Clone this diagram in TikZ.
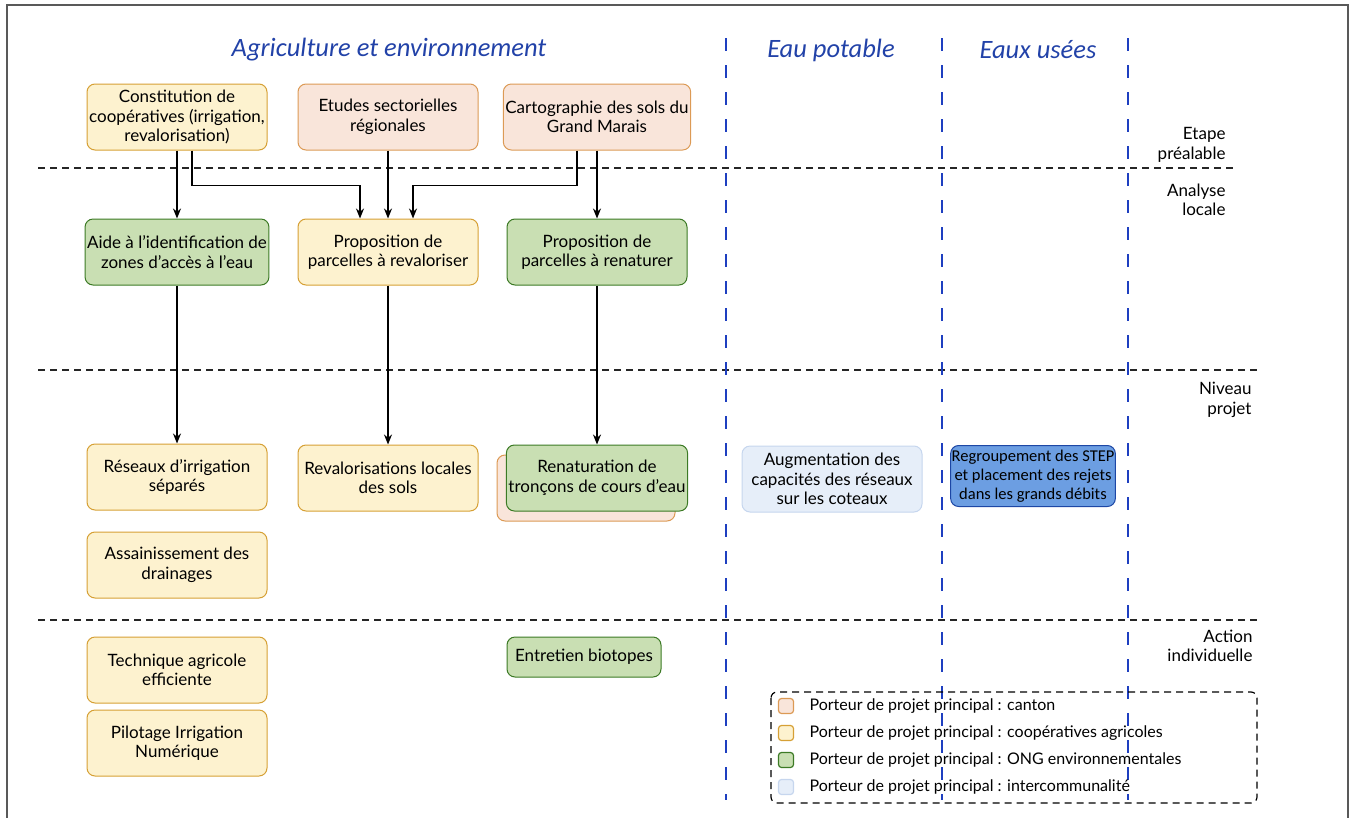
\documentclass[tikz,border=0pt]{standalone}
\usepackage{fontspec}
\setmainfont{Lato}
\newfontfamily\headfont{Carlito}
\usetikzlibrary{arrows.meta,positioning}

\definecolor{cantonfill}{HTML}{F9E5DA}
\definecolor{cantonline}{HTML}{DC9A55}
\definecolor{coopfill}{HTML}{FDF2CF}
\definecolor{coopline}{HTML}{D6A035}
\definecolor{ongfill}{HTML}{C9DFB3}
\definecolor{ongline}{HTML}{3C7A25}
\definecolor{intfill}{HTML}{E6EEF9}
\definecolor{intline}{HTML}{C6D6EE}
\definecolor{stepfill}{HTML}{6C9EE2}
\definecolor{stepline}{HTML}{1D47A5}
\definecolor{titleblue}{HTML}{2242A8}
\definecolor{frameblue}{HTML}{1E3FC0}

\begin{document}
\begin{tikzpicture}[x=1pt, y=-1pt, >={Stealth[length=10pt, width=8pt]},
    box/.style={rectangle, rounded corners=8pt, line width=1pt, minimum width=180pt, minimum height=66pt, align=center, inner sep=2pt, font=\fontsize{17}{19.5}\selectfont},
    canton/.style={box, draw=cantonline, fill=cantonfill},
    coop/.style={box, draw=coopline, fill=coopfill},
    ong/.style={box, draw=ongline, fill=ongfill},
    interco/.style={box, draw=intline, fill=intfill},
    stepbox/.style={box, draw=stepline, fill=stepfill, minimum width=154pt, minimum height=61pt, inner sep=1pt, font=\headfont\fontsize{16.5}{19}\selectfont},
    title/.style={font=\headfont\fontsize{26.5}{30}\itshape, text=titleblue},
    level/.style={align=right, anchor=east, font=\fontsize{17}{19.5}\selectfont},
    sep/.style={dash pattern=on 7pt off 5pt, line width=1.4pt, black!85},
    col/.style={dash pattern=on 13pt off 14pt, line width=2.6pt, frameblue},
    key/.style={rectangle, rounded corners=3pt, line width=1.2pt, minimum size=15pt, inner sep=0pt},
    keytext/.style={anchor=west, font=\fontsize{16}{18}\selectfont},
    arr/.style={->, line width=1.8pt}
]
    \useasboundingbox (0,0) rectangle (1350,817);
    \draw [black!65, line width=1.5pt] (7,5) rectangle (1348,830);

    % Lines
    \draw [sep] (38,168) -- (1237,168);
    \draw [sep] (38,370) -- (1258,370);
    \draw [sep] (38,620) -- (1258,620);
    \draw [col] (726,38) -- (726,800);
    \draw [col] (942,38) -- (942,800);
    \draw [col] (1128,38) -- (1128,800);

    % Titles
    \node [title] (agri)  at (389,50)  {Agriculture et environnement};
    \node [title] (eaup)  at (831,50)  {Eau potable};
    \node [title] (eauu)  at (1038,50) {Eaux usées};

    % Levels
    \node [level] (etape)   at (1229,145) {Etape\\préalable};
    \node [level] (analyse) at (1229,200) {Analyse\\locale};
    \node [level] (niveau)  at (1255,400) {Niveau\\projet};
    \node [level] (action)  at (1256,646) {Action\\individuelle};

    % Nodes {cons, etud, carto, aide, prev, pren, ...}
    \node [coop]    (cons)  at (177,117) {Constitution de\\coopératives (irrigation,\\revalorisation)};
    \node [canton]  (etud)  at (388,117) {Etudes sectorielles\\régionales};
    \node [canton]  (carto) at (597,117) {Cartographie des sols du\\Grand Marais};
    \node [ong]     (aide)  at (177,252) {Aide à l'identification de\\zones d’accès à l’eau};
    \node [coop]    (prev)  at (388,252) {Proposition de\\parcelles à revaloriser};
    \node [ong]     (pren)  at (597,252) {Proposition de\\parcelles à renaturer};
    \node [coop]    (resx)  at (177,477) {Réseaux d’irrigation\\séparés};
    \node [coop]    (reval) at (388,478) {Revalorisations locales\\des sols};
    \node [canton, minimum width=178pt, minimum height=66pt]
                    (renb)  at (586,488) {};
    \node [ong]     (renat) at (597,478) {Renaturation de\\tronçons de cours d'eau};
    \node [interco] (augm)  at (832,479) {Augmentation des\\capacités des réseaux\\sur les coteaux};
    \node [stepbox] (regr)  at (1033,476) {Regroupement des STEP\\et placement des rejets\\dans les grands débits};
    \node [coop]    (assn)  at (177,565) {Assainissement des\\drainages};
    \node [coop]    (tech)  at (177,670) {Technique agricole\\efficiente};
    \node [ong, minimum width=154pt, minimum height=40pt]
                    (entr)  at (584,657) {Entretien biotopes};
    \node [coop]    (pilo)  at (177,743) {Pilotage Irrigation\\Numérique};

    % Paths
    \path [arr] (cons)  edge (aide);
    \path [arr] (etud)  edge (prev);
    \path [arr] (carto) edge (pren);
    \path [arr] (aide)  edge (resx);
    \path [arr] (prev)  edge (reval);
    \path [arr] (pren)  edge (renat);
    \draw [arr] ([xshift=15pt]cons.south)  -- ++(0,35) -| ([xshift=-28pt]prev.north);
    \draw [arr] ([xshift=-20pt]carto.south) -- ++(0,35) -| ([xshift=25pt]prev.north);

    % Legend
    \draw [dash pattern=on 7pt off 5pt, line width=1.2pt, rounded corners=6pt] (771,692) rectangle (1257,803);
    \node [key, draw=cantonline, fill=cantonfill] (kcanton) at (786,706) {};
    \node [key, draw=coopline,   fill=coopfill]   (kcoop)   at (786,733) {};
    \node [key, draw=ongline,    fill=ongfill]    (kong)    at (786,760) {};
    \node [key, draw=intline,    fill=intfill]    (kint)    at (786,787) {};
    \node [keytext, right=12pt of kcanton] {Porteur de projet principal : canton};
    \node [keytext, right=12pt of kcoop]   {Porteur de projet principal : coopératives agricoles};
    \node [keytext, right=12pt of kong]    {Porteur de projet principal : ONG environnementales};
    \node [keytext, right=12pt of kint]    {Porteur de projet principal : intercommunalité};
\end{tikzpicture}
\end{document}
